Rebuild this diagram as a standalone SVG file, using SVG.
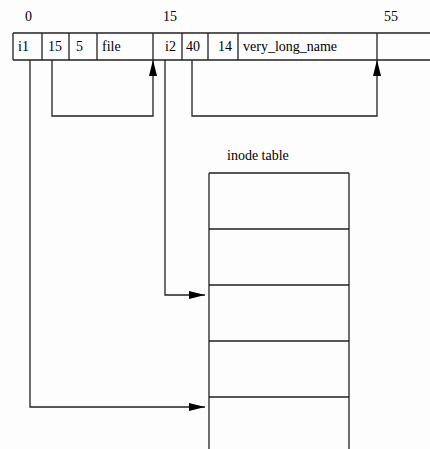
<svg xmlns="http://www.w3.org/2000/svg" width="430" height="449" viewBox="0 0 430 449">
<defs>
<style>
text{font-family:'Liberation Serif','Times New Roman','DejaVu Serif',serif;font-size:14px;fill:#000}
.ln{fill:none;stroke:#222;stroke-width:1.3}
</style>
<marker id="ah" viewBox="0 0 16 10" refX="16" refY="5" markerWidth="16" markerHeight="10" markerUnits="userSpaceOnUse" orient="auto">
<path d="M0,1 L4,2 L16,5 L4,8 L0,9 Z" fill="#000"/>
</marker>
</defs>
<rect width="430" height="449" fill="#fdfdfd"/>
<g id="offsets" font-family="Liberation Serif, serif">
<text x="25" y="21">0</text>
<text x="163" y="21">15</text>
<text x="384" y="21">55</text>
</g>
<g id="directory" font-family="Liberation Serif, serif">
<path class="ln" d="M13,33 H430 M13,60 H430 M13,33 V60 M42,33 V60 M69,33 V60 M97,33 V60 M153,33 V60 M182,33 V60 M208,33 V60 M238,33 V60 M377,33 V60"/>
<text x="18" y="51">i1</text>
<text x="48" y="51">15</text>
<text x="76" y="51">5</text>
<text x="102" y="51">file</text>
<text x="165" y="51">i2</text>
<text x="186" y="51">40</text>
<text x="218" y="51">14</text>
<text x="243" y="51">very_long_name</text>
</g>
<g id="inode-table">
<text x="227" y="160">inode table</text>
<path class="ln" d="M209,173 H349 M209,229 H349 M209,285 H349 M209,341 H349 M209,397 H349 M209,173 V449 M349,173 V449"/>
</g>
<g id="connectors">
<path class="ln" d="M52,60 V116 H153 V60" marker-end="url(#ah)"/>
<path class="ln" d="M192,60 V116 H377 V60" marker-end="url(#ah)"/>
<path class="ln" d="M165,60 V295 H205" marker-end="url(#ah)"/>
<path class="ln" d="M30,60 V407 H205" marker-end="url(#ah)"/>
</g>
</svg>
